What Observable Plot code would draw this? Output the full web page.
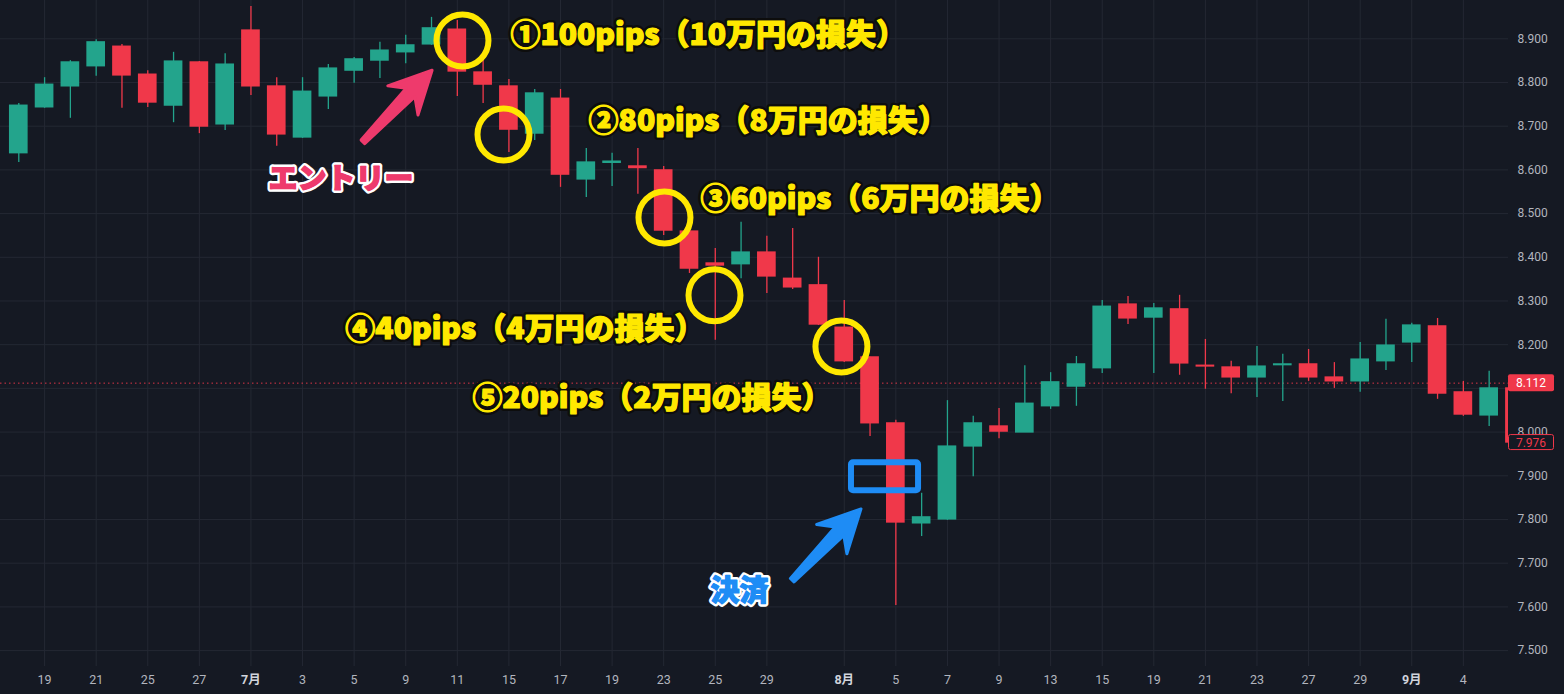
<!DOCTYPE html>
<html><head><meta charset="utf-8">
<script src="https://cdn.jsdelivr.net/npm/d3@7"></script>
<script src="https://cdn.jsdelivr.net/npm/@observablehq/plot@0.6"></script>
<style>
html,body{margin:0;padding:0;background:#151923;}
#chart{width:1564px;height:694px;overflow:hidden;}
</style></head><body><div id="chart"></div>
<script>
// ---- data ----
const dates = ["2024-06-18","2024-06-19","2024-06-20","2024-06-21","2024-06-24","2024-06-25","2024-06-26","2024-06-27","2024-06-28",
"2024-07-01","2024-07-02","2024-07-03","2024-07-04","2024-07-05","2024-07-08","2024-07-09","2024-07-10","2024-07-11","2024-07-12",
"2024-07-15","2024-07-16","2024-07-17","2024-07-18","2024-07-19","2024-07-22","2024-07-23","2024-07-24","2024-07-25","2024-07-26",
"2024-07-29","2024-07-30","2024-07-31","2024-08-01","2024-08-02","2024-08-05","2024-08-06","2024-08-07","2024-08-08","2024-08-09",
"2024-08-12","2024-08-13","2024-08-14","2024-08-15","2024-08-16","2024-08-19","2024-08-20","2024-08-21","2024-08-22","2024-08-23",
"2024-08-26","2024-08-27","2024-08-28","2024-08-29","2024-08-30","2024-09-02","2024-09-03","2024-09-04","2024-09-05","2024-09-06"];
const open = [8.638,8.743,8.791,8.837,8.882,8.818,8.747,8.846,8.704,8.919,
8.791,8.674,8.768,8.827,8.850,8.869,8.887,8.921,8.823,8.791,
8.683,8.763,8.578,8.616,8.608,8.599,8.459,8.386,8.384,8.411,
8.351,8.336,8.239,8.171,8.020,7.791,7.800,7.967,8.013,7.999,
8.059,8.104,8.146,8.292,8.262,8.281,8.152,8.148,8.125,8.153,
8.155,8.125,8.116,8.162,8.205,8.242,8.091,8.038,8.100];
const high = [8.752,8.811,8.850,8.898,8.887,8.827,8.869,8.848,8.866,8.974,
8.811,8.811,8.841,8.857,8.892,8.908,8.949,8.942,8.855,8.807,
8.784,8.784,8.649,8.638,8.649,8.608,8.461,8.420,8.480,8.448,
8.466,8.400,8.301,8.171,8.027,7.860,8.072,8.036,8.054,8.152,
8.136,8.173,8.301,8.310,8.294,8.313,8.212,8.162,8.196,8.178,
8.189,8.159,8.205,8.258,8.249,8.260,8.116,8.139,8.100];
const low = [8.617,8.741,8.718,8.814,8.741,8.743,8.708,8.683,8.690,8.770,
8.654,8.672,8.738,8.798,8.809,8.843,8.885,8.768,8.752,8.640,
8.667,8.560,8.537,8.562,8.544,8.450,8.363,8.210,8.351,8.317,
8.326,8.244,8.159,7.990,7.603,7.761,7.798,7.898,7.985,7.999,
8.052,8.059,8.134,8.246,8.134,8.130,8.098,8.088,8.079,8.070,
8.116,8.100,8.091,8.141,8.159,8.075,8.036,8.013,7.976];
const close = [8.747,8.795,8.846,8.892,8.816,8.754,8.848,8.699,8.841,8.791,
8.681,8.779,8.832,8.853,8.873,8.885,8.924,8.825,8.795,8.692,
8.775,8.589,8.617,8.619,8.604,8.461,8.374,8.381,8.411,8.356,
8.331,8.246,8.162,8.020,7.793,7.805,7.967,8.020,8.001,8.065,
8.114,8.155,8.287,8.260,8.283,8.157,8.150,8.125,8.150,8.155,
8.125,8.116,8.166,8.198,8.244,8.088,8.040,8.100,7.976];

const dayTickIndex = [1,3,5,7,11,13,15,17,19,21,23,25,27,29,34,36,38,40,42,44,46,48,50,52,56];
const dayTickLabels = ["19","21","25","27","3","5","9","11","15","17","19","23","25","29","5","7","9","13","15","19","21","23","27","29","4"];
const monthTickIndex = [9,32,54];
const monthTickLabels = ["7月","8月","9月"];
const priceTicks = [7.5,7.6,7.7,7.8,7.9,8.0,8.1,8.2,8.3,8.4,8.5,8.6,8.7,8.8,8.9];
const prevPrice = 8.112;
const lastPrice = 7.976;

// annotations (in index / price units)
const circleIdx = [17.20,18.79,25.03,26.97,31.89];
const circlePrice = [8.896,8.681,8.491,8.313,8.196];
const noteTexts = ["①100pips（10万円の損失）","②80pips（8万円の損失）","③60pips（6万円の損失）","④40pips（4万円の損失）","⑤20pips（2万円の損失）"];
const noteIdx = [19.06,22.09,26.43,12.66,17.59];
const notePrice = [8.908,8.711,8.532,8.235,8.077];
const entryLabel = {t:"エントリー", i:9.68, p:8.578};
const exitLabel = {t:"決済", i:26.81, p:7.635};
const entryArrow = {from:[13.36,8.663], to:[16.04,8.827]};
const exitArrow = {from:[30.0,7.660], to:[32.67,7.823]};
const exitBox = {i1:32.28, i2:34.88, p1:7.930, p2:7.866};

// ---- build ----
const GREEN = "#23a48c", RED = "#f0384a", YELLOW = "#ffe800", PINK = "#ee3a6c", BLUE = "#1e8cf5";
const BG = "#151923", GRID = "#242833", AXIS = "#b2b5be";
const candles = dates.map((d,i)=>({i, date:d, o:open[i], h:high[i], l:low[i], c:close[i], col: close[i] >= open[i] ? GREEN : RED}));
const circles = circleIdx.map((v,k)=>({i:v, p:circlePrice[k]}));
const notes = noteTexts.map((t,k)=>({t, i:noteIdx[k], p:notePrice[k]}));
const dayMap = new Map(dayTickIndex.map((v,k)=>[v, dayTickLabels[k]]));
const monMap = new Map(monthTickIndex.map((v,k)=>[v, monthTickLabels[k]]));
const labelTicks = priceTicks.filter(v => Math.abs(v - prevPrice) > 0.02); // 8.100 sits under the price tag

const FONT = "Roboto, 'Noto Sans CJK JP', sans-serif";
const JP = "'Noto Sans CJK JP', 'Noto Sans', sans-serif";

function heavyText(data, fill, outline, size, spacing){
  const base = {x: "i", y: "p", text: "t", textAnchor: "start", fontSize: size, fontWeight: 900, fontFamily: JP, letterSpacing: spacing, paintOrder: "stroke", strokeLinejoin: "round"};
  return [
    Plot.text(data, {...base, fill, stroke: outline, strokeWidth: 6}),
    Plot.text(data, {...base, fill, stroke: fill, strokeWidth: 1.2})
  ];
}

const chart = Plot.plot({
  width: 1564, height: 694,
  marginLeft: 0, marginRight: 56, marginTop: 0, marginBottom: 28,
  style: {background: BG, color: AXIS, fontFamily: FONT, fontSize: "12px"},
  x: {type: "linear", domain: [-0.709, 57.75], axis: null},
  y: {domain: [7.4636, 8.9876], axis: null},
  color: {type: "identity"},
  marks: [
    Plot.gridY(priceTicks, {stroke: GRID, strokeOpacity: 1, strokeWidth: 1}),
    Plot.gridX([...dayTickIndex, ...monthTickIndex], {stroke: GRID, strokeOpacity: 1, strokeWidth: 1}),
    Plot.axisY(labelTicks, {anchor: "right", tickSize: 0, tickPadding: 9, tickFormat: d3.format(".3f"), fill: AXIS, fontSize: 12}),
    Plot.axisX(dayTickIndex, {anchor: "bottom", tickSize: 0, tickPadding: 9, tickFormat: d => dayMap.get(d), fill: AXIS, fontSize: 12.5}),
    Plot.axisX(monthTickIndex, {anchor: "bottom", tickSize: 0, tickPadding: 9, tickFormat: d => monMap.get(d), fill: "#d1d4dc", fontWeight: "bold", fontSize: 12.5}),
    Plot.ruleY([prevPrice], {stroke: RED, strokeWidth: 1, strokeDasharray: "1.5,3", strokeOpacity: 0.9}),
    Plot.ruleX(candles, {x: "i", y1: "l", y2: "h", stroke: "col", strokeWidth: 1.3, clip: true}),
    Plot.rect(candles, {x1: d => d.i - 0.362, x2: d => d.i + 0.362, y1: "o", y2: "c", fill: "col", insetTop: -0.6, insetBottom: -0.6, clip: true}),
    Plot.dot(circles, {x: "i", y: "p", r: 26, stroke: YELLOW, strokeWidth: 6, fill: "none"}),
    Plot.rect([exitBox], {x1: "i1", x2: "i2", y1: "p1", y2: "p2", stroke: BLUE, strokeWidth: 6, fill: "none", rx: 2}),
    ...heavyText(notes, YELLOW, "#0d0d0d", 30, "1.1px"),
    ...heavyText([entryLabel], PINK, "#ffffff", 29, "0px"),
    ...heavyText([exitLabel], BLUE, "#ffffff", 29, "0px")
  ]
});

const sx = chart.scale("x"), sy = chart.scale("y");
const svg = d3.select(chart);

// arrows drawn through the scales
function arrowPath(a){
  const T = [sx.apply(a.from[0]), sy.apply(a.from[1])];
  const P = [sx.apply(a.to[0]), sy.apply(a.to[1])];
  const dx = P[0]-T[0], dy = P[1]-T[1], L = Math.hypot(dx,dy);
  const u = [dx/L, dy/L], n = [-u[1], u[0]];
  const headLen = 42, headHalf = 21, notch = 11, tailHalf = 2.5, neckHalf = 6;
  const pt = (base, along, side) => [base[0] + u[0]*along + n[0]*side, base[1] + u[1]*along + n[1]*side];
  const pts = [pt(T,0,tailHalf), pt(P,-(headLen-notch),neckHalf), pt(P,-headLen,headHalf), P,
               pt(P,-headLen,-headHalf), pt(P,-(headLen-notch),-neckHalf), pt(T,0,-tailHalf)];
  return "M" + pts.map(p => p[0].toFixed(1)+","+p[1].toFixed(1)).join("L") + "Z";
}
svg.append("path").attr("d", arrowPath(entryArrow)).attr("fill", PINK).attr("stroke", PINK).attr("stroke-width", 3).attr("stroke-linejoin", "round");
svg.append("path").attr("d", arrowPath(exitArrow)).attr("fill", BLUE).attr("stroke", BLUE).attr("stroke-width", 3).attr("stroke-linejoin", "round");

// price labels on the axis
const xL = 1564 - 56;
const y1 = sy.apply(prevPrice);
svg.append("rect").attr("x", xL).attr("y", y1 - 8.5).attr("width", 46).attr("height", 17).attr("rx", 2).attr("fill", RED);
svg.append("text").attr("x", xL + 23).attr("y", y1).attr("dy", "0.35em").attr("text-anchor", "middle")
   .attr("fill", "#ffffff").attr("font-family", FONT).attr("font-size", 12).text(prevPrice.toFixed(3));
const y2 = sy.apply(lastPrice);
svg.append("rect").attr("x", xL + 0.5).attr("y", y2 - 7.5).attr("width", 45).attr("height", 15).attr("rx", 2).attr("fill", BG).attr("stroke", RED).attr("stroke-width", 1);
svg.append("text").attr("x", xL + 23).attr("y", y2 + 0.5).attr("dy", "0.35em").attr("text-anchor", "middle")
   .attr("fill", RED).attr("font-family", FONT).attr("font-size", 12).text(lastPrice.toFixed(3));

document.getElementById("chart").appendChild(chart);
</script></body></html>
